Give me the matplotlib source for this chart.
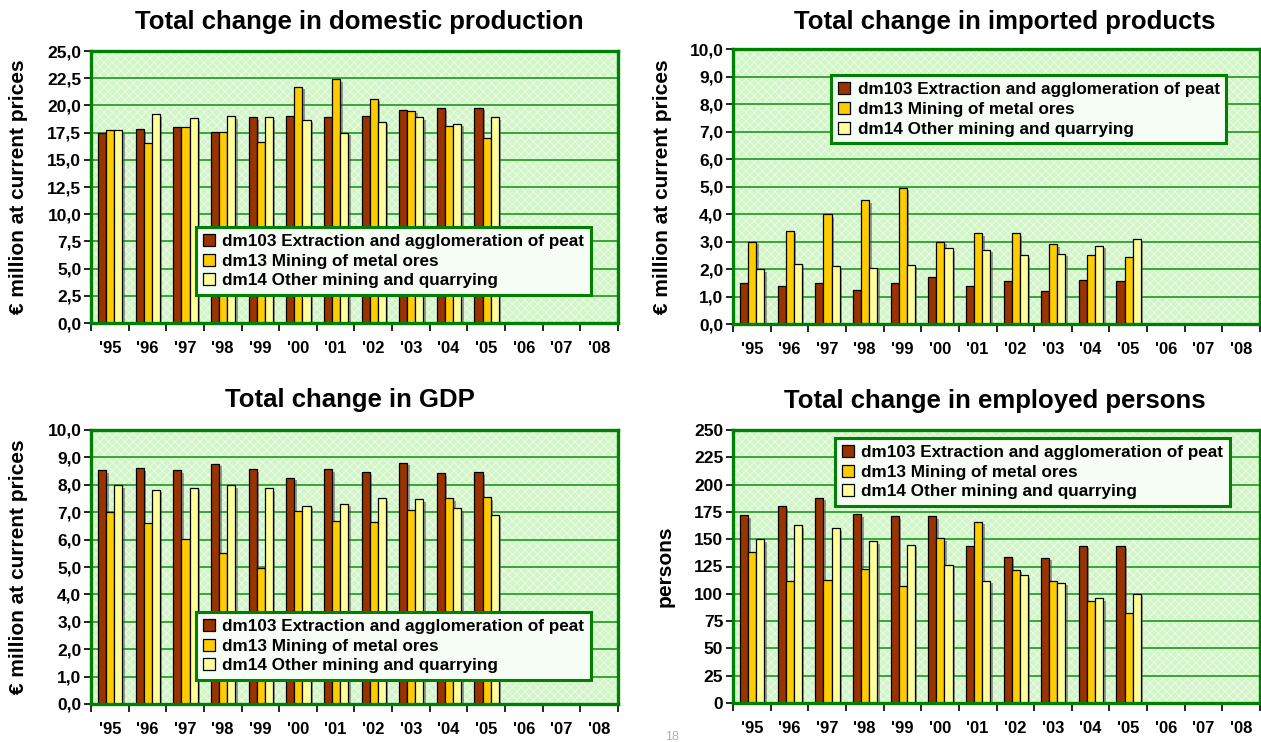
import matplotlib
matplotlib.use("Agg")
import matplotlib.pyplot as plt
from matplotlib.patches import Rectangle
from matplotlib.ticker import FixedLocator, FuncFormatter
import matplotlib.patheffects as pe
import numpy as np

plt.rcParams['font.family'] = ['Liberation Sans', 'DejaVu Sans']
plt.rcParams['hatch.linewidth'] = 0.6

years = ["'95", "'96", "'97", "'98", "'99", "'00", "'01", "'02", "'03", "'04", "'05", "'06", "'07", "'08"]
series_names = ["dm103 Extraction and agglomeration of peat",
                "dm13 Mining of metal ores",
                "dm14 Other mining and quarrying"]
series_colors = ["#993300", "#FFCC00", "#FFFF99"]

# Domestic production, € million at current prices ('95-'05)
prod_dm103 = [17.5, 17.8, 18.0, 17.6, 18.9, 19.0, 18.9, 19.0, 19.6, 19.8, 19.8]
prod_dm13 = [17.7, 16.5, 18.0, 17.6, 16.6, 21.7, 22.4, 20.6, 19.5, 18.1, 17.0]
prod_dm14 = [17.7, 19.2, 18.8, 19.0, 18.9, 18.7, 17.5, 18.5, 18.9, 18.3, 18.9]

# Imported products, € million at current prices
imp_dm103 = [1.50, 1.40, 1.50, 1.25, 1.50, 1.70, 1.40, 1.55, 1.20, 1.60, 1.55]
imp_dm13 = [3.00, 3.40, 4.00, 4.50, 4.95, 3.00, 3.30, 3.30, 2.90, 2.50, 2.45]
imp_dm14 = [2.00, 2.20, 2.10, 2.05, 2.15, 2.75, 2.70, 2.50, 2.55, 2.85, 3.10]

# GDP, € million at current prices
gdp_dm103 = [8.53, 8.60, 8.53, 8.76, 8.56, 8.25, 8.56, 8.46, 8.80, 8.42, 8.46]
gdp_dm13 = [7.00, 6.60, 6.03, 5.50, 4.97, 7.03, 6.69, 6.65, 7.07, 7.51, 7.54]
gdp_dm14 = [7.98, 7.82, 7.90, 7.98, 7.87, 7.24, 7.31, 7.51, 7.47, 7.15, 6.91]

# Employed persons
emp_dm103 = [172, 180, 188, 173, 171, 171, 144, 134, 133, 144, 144]
emp_dm13 = [138, 112, 113, 123, 107, 151, 166, 122, 112, 93, 82]
emp_dm14 = [150, 163, 160, 148, 145, 126, 112, 117, 110, 96, 100]

W, H = 1261, 742
fig = plt.figure(figsize=(W / 100, H / 100), dpi=100)
fig.patch.set_facecolor("white")

FRAME_GREEN = "#008000"
GRID_GREEN = "#2E9E2E"


def px_axes(x0, y0, x1, y1):
    return fig.add_axes([x0 / W, 1 - y1 / H, (x1 - x0) / W, (y1 - y0) / H])


def comma_fmt(decimals):
    def f(v, pos):
        s = f"{v:.{decimals}f}"
        return s.replace(".", ",")
    return FuncFormatter(f)


def panel(box, title, title_xy, data, ymax, ystep, decimals, legend_anchor,
          ylabel, ylabel_x):
    ax = px_axes(*box)
    n = len(years)
    ax.set_xlim(-0.5, n - 0.5)
    ax.set_ylim(0, ymax)

    # patterned light green plot area
    ax.set_facecolor("#d2f5c8")
    ax.add_patch(Rectangle((0, 0), 1, 1, transform=ax.transAxes,
                           facecolor="none", edgecolor="#eefde9",
                           hatch="xxxx", linewidth=0, zorder=0.5))

    yt = np.arange(0, ymax + ystep / 2, ystep)
    for y in yt[1:-1]:
        ax.axhline(y, color=GRID_GREEN, lw=1.3, zorder=1)

    width = 0.215
    offsets = [-width, 0.0, width]
    shadow = [pe.SimplePatchShadow(offset=(1.8, -1.8), shadow_rgbFace="#555555",
                                   alpha=0.55), pe.Normal()]
    handles = []
    for vals, off, col in zip(data, offsets, series_colors):
        x = np.arange(len(vals)) + off + 0.01
        b = ax.bar(x, vals, width=width, color=col, edgecolor="black",
                   linewidth=0.9, zorder=3)
        for r in b:
            r.set_path_effects(shadow)
        handles.append(b)

    # frame
    for s in ax.spines.values():
        s.set_color(FRAME_GREEN)
        s.set_linewidth(2.4)
        s.set_zorder(4)

    ax.yaxis.set_major_locator(FixedLocator(yt))
    ax.yaxis.set_major_formatter(comma_fmt(decimals))
    ax.tick_params(axis="y", direction="out", length=5, width=1.2,
                   color="black", pad=2, labelsize=12.5)
    for lab in ax.get_yticklabels():
        lab.set_fontweight("bold")

    ax.xaxis.set_major_locator(FixedLocator(np.arange(-0.5, n, 1.0)))
    ax.xaxis.set_major_formatter(FuncFormatter(lambda v, p: ""))
    ax.xaxis.set_minor_locator(FixedLocator(np.arange(n)))
    ax.xaxis.set_minor_formatter(FuncFormatter(lambda v, p: years[int(round(v))]))
    ax.tick_params(axis="x", which="major", direction="out", length=6,
                   width=1.2, color="black")
    ax.tick_params(axis="x", which="minor", length=0, pad=13, labelsize=12)
    for lab in ax.get_xticklabels(minor=True):
        lab.set_fontweight("bold")

    leg = ax.legend(handles, series_names, loc="upper left",
                    bbox_to_anchor=legend_anchor, borderaxespad=0,
                    frameon=True, fancybox=False, handlelength=0.7,
                    handleheight=0.7, handletextpad=0.45, labelspacing=0.28,
                    borderpad=0.4, prop={"weight": "bold", "size": 12.3})
    leg.get_frame().set_edgecolor(FRAME_GREEN)
    leg.get_frame().set_linewidth(2.2)
    leg.get_frame().set_facecolor("#f6fdf4")
    leg.get_frame().set_alpha(1)
    leg.set_zorder(6)
    for h in leg.legend_handles:
        h.set_path_effects([])
        h.set_linewidth(0.9)

    fig.text(title_xy[0] / W, 1 - title_xy[1] / H, title, ha="center",
             va="center", fontsize=18.5, fontweight="bold")
    cy = (box[1] + box[3]) / 2
    fig.text(ylabel_x / W, 1 - cy / H, ylabel, rotation=90, ha="center",
             va="center", fontsize=15, fontweight="bold")
    return ax


eur_label = "€ million at current prices"

panel((91, 51, 618, 323), "Total change in domestic production", (359, 22),
      [prod_dm103, prod_dm13, prod_dm14], 25.0, 2.5, 1,
      (0.199, 0.353), eur_label, 19)

panel((733, 49, 1260, 324), "Total change in imported products", (1005, 22),
      [imp_dm103, imp_dm13, imp_dm14], 10.0, 1.0, 1,
      (0.186, 0.905), eur_label, 662)

panel((91, 430, 618, 704), "Total change in GDP", (350, 400),
      [gdp_dm103, gdp_dm13, gdp_dm14], 10.0, 1.0, 1,
      (0.199, 0.336), eur_label, 19)

panel((733, 430, 1260, 703), "Total change in employed persons", (995, 401),
      [emp_dm103, emp_dm13, emp_dm14], 250, 25, 0,
      (0.1935, 0.971), "persons", 665)

fig.text(672 / W, 1 - 737 / H, "18", ha="center", va="center",
         fontsize=9, color="#b0b0b0")

fig.savefig("out.png", dpi=100)
